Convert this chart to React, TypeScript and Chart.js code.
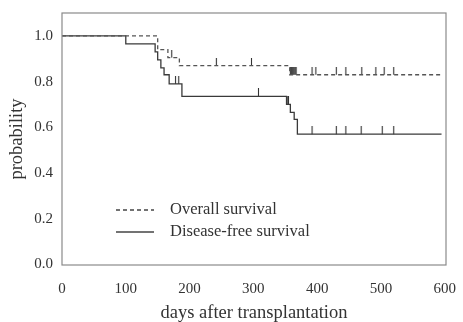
import React, { useEffect, useRef } from "react";
import { Chart, registerables } from "chart.js";

Chart.register(...registerables);

const xTicks = [0, 100, 200, 300, 400, 500, 600];
const yTicks = [0, 0.2, 0.4, 0.6, 0.8, 1.0];
const seriesLabels = ["Overall survival", "Disease-free survival"];
const xTitle = "days after transplantation";
const yTitle = "probability";

// Overall survival (Kaplan-Meier steps: value after each event time)
const osTimes = [0, 150, 166, 184, 357, 595];
const osValues = [1.0, 0.94, 0.905, 0.87, 0.83, 0.83];
const osCensored = [172, 242, 297, 358, 359.5, 361, 362.5, 364, 365.5, 367, 392, 398, 430, 445, 470, 492, 505, 520];

// Disease-free survival
const dfsTimes = [0, 100, 146, 150, 155, 160, 168, 188, 352, 358, 364, 369, 595];
const dfsValues = [1.0, 0.965, 0.93, 0.895, 0.86, 0.83, 0.79, 0.735, 0.70, 0.665, 0.635, 0.57, 0.57];
const dfsCensored = [178, 183, 308, 353, 355, 392, 430, 445, 469, 502, 520];

const FONT = "'Liberation Serif', 'DejaVu Serif', serif";
const TEXT = "#333";

function survivalAt(times: number[], values: number[], t: number) {
  let v = values[0];
  for (let i = 0; i < times.length; i++) if (times[i] <= t) v = values[i];
  return v;
}

function makeTick(h: number, color: string) {
  const c = document.createElement("canvas");
  c.width = 3;
  c.height = 2 * h;
  const ctx = c.getContext("2d")!;
  ctx.strokeStyle = color;
  ctx.lineWidth = 1.1;
  ctx.beginPath();
  ctx.moveTo(1.5, 0);
  ctx.lineTo(1.5, h);
  ctx.stroke();
  return c;
}

const zeroPadding = (axis: any) => {
  axis.paddingTop = 0;
  axis.paddingBottom = 0;
  axis.paddingLeft = 0;
  axis.paddingRight = 0;
};

export default function App() {
  const ref = useRef<HTMLCanvasElement>(null);
  useEffect(() => {
    const tick = makeTick(8, "#333");
    const frame = {
      id: "frame",
      afterDraw(chart: any) {
        const { ctx, chartArea: a } = chart;
        ctx.save();
        ctx.strokeStyle = "#8a8a8a";
        ctx.lineWidth = 1.2;
        ctx.strokeRect(a.left, a.top, a.right - a.left, a.bottom - a.top);
        ctx.restore();
      },
    };
    const legend = {
      id: "customLegend",
      afterDraw(chart: any) {
        const { ctx, chartArea: a } = chart;
        const rows = [
          { label: seriesLabels[0], dash: [4, 3], y: a.top + 197 },
          { label: seriesLabels[1], dash: [], y: a.top + 219 },
        ];
        ctx.save();
        rows.forEach((r) => {
          ctx.strokeStyle = "#444";
          ctx.lineWidth = 1.3;
          ctx.setLineDash(r.dash);
          ctx.beginPath();
          ctx.moveTo(a.left + 54, r.y);
          ctx.lineTo(a.left + 92, r.y);
          ctx.stroke();
          ctx.setLineDash([]);
          ctx.fillStyle = TEXT;
          ctx.font = `16.5px ${FONT}`;
          ctx.textBaseline = "middle";
          ctx.fillText(r.label, a.left + 108, r.y);
        });
        ctx.restore();
      },
    };
    const chart = new Chart(ref.current!, {
      type: "line",
      data: {
        datasets: [
          {
            label: seriesLabels[0],
            data: osTimes.map((t, i) => ({ x: t, y: osValues[i] })),
            stepped: "before",
            borderColor: "#555",
            borderWidth: 1.3,
            borderDash: [4, 3],
            pointRadius: 0,
          },
          {
            label: seriesLabels[1],
            data: dfsTimes.map((t, i) => ({ x: t, y: dfsValues[i] })),
            stepped: "before",
            borderColor: "#3a3a3a",
            borderWidth: 1.3,
            pointRadius: 0,
          },
          {
            label: "os-censored",
            data: osCensored.map((t) => ({ x: t, y: survivalAt(osTimes, osValues, t) })),
            showLine: false,
            pointStyle: tick as any,
            pointRadius: 3,
          },
          {
            label: "dfs-censored",
            data: dfsCensored.map((t) => ({ x: t, y: survivalAt(dfsTimes, dfsValues, t) })),
            showLine: false,
            pointStyle: tick as any,
            pointRadius: 3,
          },
        ],
      },
      options: {
        animation: false,
        responsive: true,
        maintainAspectRatio: false,
        layout: { padding: { left: 0, top: 13, right: 17, bottom: 0 } },
        plugins: { legend: { display: false }, tooltip: { enabled: false } },
        scales: {
          x: {
            type: "linear",
            min: 0,
            max: 602,
            grid: { display: false, drawTicks: false },
            border: { display: false },
            afterBuildTicks: (axis: any) => {
              axis.ticks = xTicks.map((v) => ({ value: v }));
            },
            afterFit: (axis: any) => {
              axis.height = 57;
              zeroPadding(axis);
            },
            ticks: {
              padding: 15,
              color: TEXT,
              font: { family: FONT, size: 15 },
              maxRotation: 0,
            },
            title: {
              display: true,
              text: xTitle,
              color: TEXT,
              font: { family: FONT, size: 18.5 },
              padding: { top: 0, bottom: -2 },
            },
          },
          y: {
            type: "linear",
            min: -0.002,
            max: 1.1,
            grid: { display: false, drawTicks: false },
            border: { display: false },
            afterBuildTicks: (axis: any) => {
              axis.ticks = yTicks.map((v) => ({ value: v }));
            },
            afterFit: (axis: any) => {
              axis.width = 62;
              zeroPadding(axis);
            },
            ticks: {
              padding: 9,
              color: TEXT,
              font: { family: FONT, size: 15 },
              callback: (v: any) => Number(v).toFixed(1),
            },
            title: {
              display: true,
              text: yTitle,
              color: TEXT,
              font: { family: FONT, size: 18.5 },
              padding: { top: 6.5, bottom: 0 },
            },
          },
        },
      },
      plugins: [frame, legend],
    });
    return () => chart.destroy();
  }, []);
  return (
    <div style={{ position: "fixed", left: 0, top: 0, width: 463, height: 322, background: "#fff" }}>
      <canvas ref={ref} />
    </div>
  );
}
